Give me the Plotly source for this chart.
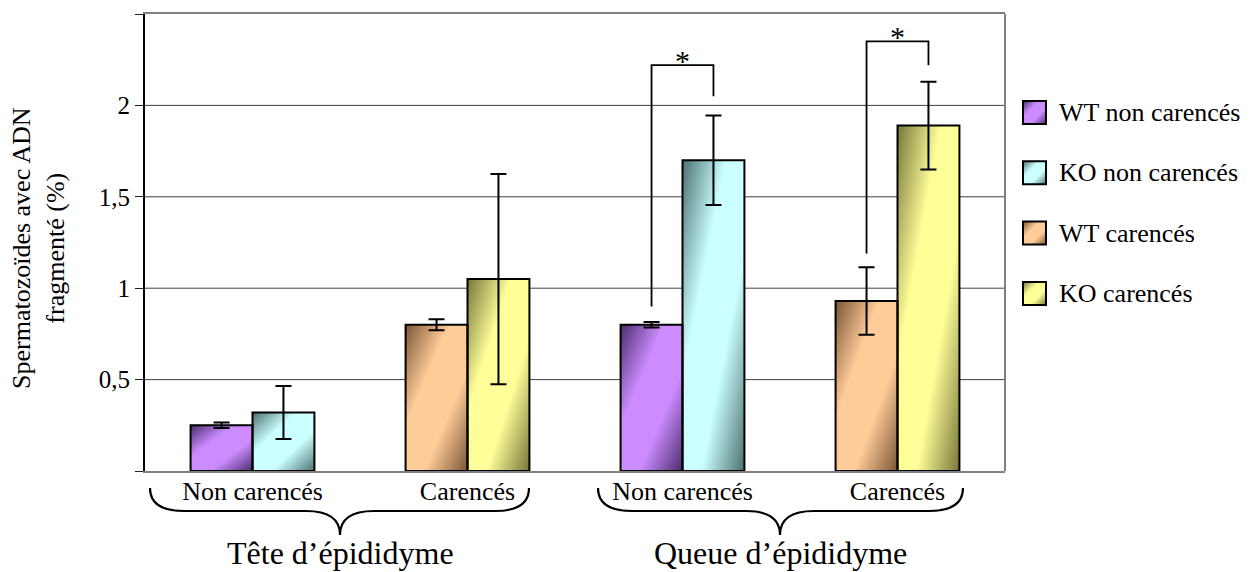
import base64
import plotly.graph_objects as go

# ---------------- data ----------------
categories = ["Non carencés", "Carencés", "Non carencés", "Carencés"]
cat_pos = [0, 1, 2, 3]
regions = ["Tête d’épididyme", "Queue d’épididyme"]

series_names = ["WT non carencés", "KO non carencés", "WT carencés", "KO carencés"]
# each series is present in two of the four categories
wt_nc_x = [0, 2]
wt_nc = [0.25, 0.80]
wt_nc_err = [0.015, 0.015]

ko_nc_x = [0, 2]
ko_nc = [0.32, 1.70]
ko_nc_err = [0.145, 0.245]

wt_c_x = [1, 3]
wt_c = [0.80, 0.93]
wt_c_err = [0.03, 0.185]

ko_c_x = [1, 3]
ko_c = [1.05, 1.89]
ko_c_err = [0.575, 0.24]

y_ticks = [0, 0.5, 1, 1.5, 2, 2.5]
y_tick_text = ["", "0,5", "1", "1,5", "2", ""]

# significance brackets: category, left foot, top, right foot
sig_cat = [2, 3]
sig_left = [0.90, 1.19]
sig_top = [2.22, 2.35]
sig_right = [2.05, 2.22]
sig_label = ["*", "*"]

# ---------------- style ----------------
FONT = "Liberation Serif"
BW = 0.288  # bar width in category units
L, T, W, H = 145, 14, 860, 457  # plot area in pixels
FIG_W, FIG_H = 1254, 572

# light / dark colour of each series gradient
palette = [
    ("#cc8cff", "#4a2c6c"),
    ("#ccffff", "#4a7070"),
    ("#ffcc99", "#7a5535"),
    ("#ffff99", "#76763a"),
]


def px(x):
    return (x - L) / W


def py(y):
    return (T + H - y) / H


def gradient_uri(light, dark):
    svg = (
        '<svg xmlns="http://www.w3.org/2000/svg" width="100" height="100" '
        'viewBox="0 0 100 100" preserveAspectRatio="none"><defs>'
        '<linearGradient id="g" x1="0" y1="0" x2="1" y2="1">'
        f'<stop offset="0" stop-color="{dark}"/>'
        f'<stop offset="0.35" stop-color="{light}"/>'
        f'<stop offset="0.65" stop-color="{light}"/>'
        f'<stop offset="1" stop-color="{dark}"/>'
        '</linearGradient></defs>'
        '<rect width="100" height="100" fill="url(#g)"/></svg>'
    )
    return "data:image/svg+xml;base64," + base64.b64encode(svg.encode()).decode()


series = [
    (wt_nc_x, wt_nc, wt_nc_err, -BW),
    (ko_nc_x, ko_nc, ko_nc_err, 0.0),
    (wt_c_x, wt_c, wt_c_err, -BW),
    (ko_c_x, ko_c, ko_c_err, 0.0),
]

fig = go.Figure()
images = []
shapes = []
annotations = []

# bars: outlined bars with error bars, gradient fill drawn beneath them
for (xs, ys, errs, off), name, (light, dark) in zip(series, series_names, palette):
    uri = gradient_uri(light, dark)
    fig.add_trace(go.Bar(
        x=xs, y=ys, name=name, offset=off, width=BW,
        marker=dict(color="rgba(0,0,0,0)", line=dict(color="black", width=2)),
        error_y=dict(type="data", array=errs, color="black", thickness=2, width=8),
        showlegend=False,
    ))
    for xv, yv in zip(xs, ys):
        images.append(dict(
            source=uri, xref="x", yref="y", x=xv + off, y=yv,
            sizex=BW, sizey=yv, xanchor="left", yanchor="top",
            sizing="stretch", layer="below",
        ))

# significance brackets
for c, yl, yt, yr, lab in zip(sig_cat, sig_left, sig_top, sig_right, sig_label):
    x0 = c - BW / 2
    x1 = c + BW / 2
    fig.add_trace(go.Scatter(
        x=[x0, x0, x1, x1], y=[yl, yt, yt, yr], mode="lines",
        line=dict(color="black", width=1.8), showlegend=False, hoverinfo="skip",
    ))
    annotations.append(dict(
        x=c, y=yt, xref="x", yref="y", text=lab, showarrow=False,
        yanchor="bottom", font=dict(family=FONT, size=30, color="black"),
        yshift=-14,
    ))

# horizontal grid lines
for v in y_ticks[1:-1]:
    shapes.append(dict(
        type="line", xref="paper", yref="y", x0=0, x1=1, y0=v, y1=v,
        line=dict(color="#404040", width=1), layer="below",
    ))

# right border of the plot area
shapes.append(dict(
    type="line", xref="paper", yref="paper", x0=1, x1=1, y0=0, y1=1,
    line=dict(color="#808080", width=2), layer="above",
))


# curly braces grouping the categories
def brace_path(x0, x1, xc, ytop=488, ymid=511, ytip=535, r=34):
    return (
        f"M {px(x0)},{py(ytop)} "
        f"Q {px(x0)},{py(ymid)} {px(x0 + r)},{py(ymid)} "
        f"L {px(xc - r)},{py(ymid)} "
        f"Q {px(xc)},{py(ymid)} {px(xc)},{py(ytip)} "
        f"Q {px(xc)},{py(ymid)} {px(xc + r)},{py(ymid)} "
        f"L {px(x1 - r)},{py(ymid)} "
        f"Q {px(x1)},{py(ymid)} {px(x1)},{py(ytop)}"
    )


brace_spans = [(150, 529, 340), (598, 963, 780)]
for (b0, b1, bc), reg in zip(brace_spans, regions):
    shapes.append(dict(
        type="path", xref="paper", yref="paper", path=brace_path(b0, b1, bc),
        line=dict(color="black", width=2.2), layer="above",
    ))
    annotations.append(dict(
        x=px(bc), y=py(553), xref="paper", yref="paper", text=reg,
        showarrow=False, xanchor="center", yanchor="middle",
        font=dict(family=FONT, size=32, color="black"),
    ))

# legend built from gradient swatches
for i, (name, (light, dark)) in enumerate(zip(series_names, palette)):
    yc = 112.5 + 60.3 * i
    images.append(dict(
        source=gradient_uri(light, dark), xref="paper", yref="paper",
        x=px(1023), y=py(yc - 11.5), sizex=23 / W, sizey=23 / H,
        xanchor="left", yanchor="top", sizing="stretch", layer="above",
    ))
    shapes.append(dict(
        type="rect", xref="paper", yref="paper",
        x0=px(1023), x1=px(1046), y0=py(yc - 11.5), y1=py(yc + 11.5),
        line=dict(color="black", width=2), layer="above",
    ))
    annotations.append(dict(
        x=px(1057), y=py(yc), xref="paper", yref="paper", text=name,
        showarrow=False, xanchor="left", yanchor="middle",
        font=dict(family=FONT, size=26, color="black"),
    ))

# y axis title
annotations.append(dict(
    x=px(38), y=py(248), xref="paper", yref="paper",
    text="Spermatozoïdes avec ADN<br>fragmenté (%)", textangle=-90,
    showarrow=False, xanchor="center", yanchor="middle",
    font=dict(family=FONT, size=26, color="black"),
))

fig.update_layout(
    width=FIG_W, height=FIG_H,
    margin=dict(l=L, r=FIG_W - L - W, t=T, b=FIG_H - T - H, pad=0),
    paper_bgcolor="white", plot_bgcolor="white",
    barmode="overlay",
    font=dict(family=FONT, size=26, color="black"),
    images=images, shapes=shapes, annotations=annotations,
    xaxis=dict(
        range=[-0.5, 3.5], tickvals=cat_pos, ticktext=categories,
        showgrid=False, zeroline=False, ticks="",
        showline=True, linecolor="#808080", linewidth=2, mirror=True,
        tickfont=dict(family=FONT, size=26, color="black"),
        ticklabelstandoff=-4,
    ),
    yaxis=dict(
        range=[0, 2.5], tickvals=y_ticks, ticktext=y_tick_text,
        showgrid=False, zeroline=False,
        ticks="outside", ticklen=8, tickcolor="#202020", tickwidth=1,
        showline=True, linecolor="black", linewidth=2,
        tickfont=dict(family=FONT, size=25, color="black"),
    ),
)

fig.write_html("out.html")
